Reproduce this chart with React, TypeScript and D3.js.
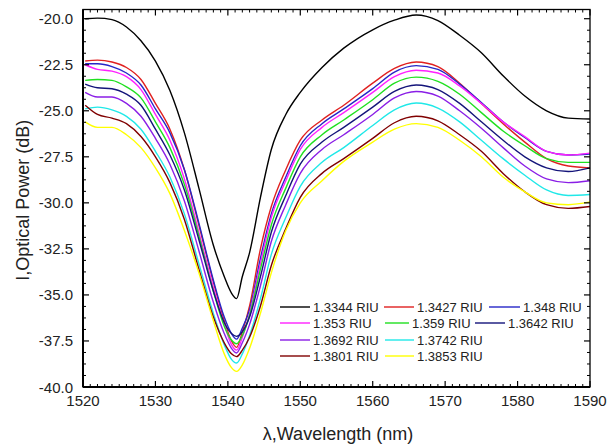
import React from "react";
import * as d3 from "d3";

// wavelength samples (nm) shared by every trace
const wavelength = [
  1520.3, 1522, 1524, 1526, 1528, 1530, 1532, 1534, 1536, 1538, 1539.5, 1540.5,
  1541.2, 1542, 1543, 1544.5, 1546, 1548, 1550, 1553, 1556, 1560, 1563, 1566,
  1569, 1572, 1575, 1578, 1581, 1584, 1587, 1590,
];

const riu13344 = [-20.0, -19.97, -20.05, -20.45, -21.2, -22.3, -23.9, -26.2, -29.2, -32.3, -34.0, -34.9, -35.2, -34.0, -32.7, -29.7, -27.1, -25.2, -24.0, -22.65, -21.6, -20.6, -20.08, -19.8, -20.1, -20.9, -21.85, -23.1, -24.2, -25.0, -25.4, -25.45];
const riu13427 = [-22.3, -22.25, -22.35, -22.65, -23.3, -24.6, -26.0, -28.2, -31.2, -34.3, -36.4, -37.5, -37.85, -37.0, -35.6, -32.5, -30.2, -28.2, -26.6, -25.5, -24.7, -23.5, -22.7, -22.35, -22.6, -23.5, -24.6, -25.7, -26.7, -27.6, -28.0, -28.1];
const riu1348 = [-22.45, -22.45, -22.6, -22.95, -23.6, -24.9, -26.2, -28.2, -31.1, -34.2, -36.2, -37.1, -37.4, -36.8, -35.8, -33.0, -30.6, -28.6, -26.9, -25.7, -24.9, -23.8, -22.9, -22.55, -22.75, -23.55, -24.55, -25.6, -26.45, -27.2, -27.4, -27.35];
const riu1353 = [-22.5, -22.75, -22.85, -23.15, -23.85, -25.2, -26.6, -28.7, -31.6, -34.6, -36.6, -37.7, -38.0, -37.3, -36.0, -33.3, -30.8, -28.8, -27.1, -25.9, -25.1, -24.0, -23.15, -22.8, -22.95, -23.65, -24.6, -25.6, -26.4, -27.2, -27.4, -27.3];
const riu1359 = [-23.35, -23.3, -23.35, -23.7, -24.3, -25.6, -27.0, -29.0, -31.8, -34.8, -36.7, -37.45, -37.65, -37.2, -36.1, -33.6, -31.2, -29.2, -27.5, -26.3, -25.5, -24.4, -23.5, -23.17, -23.4, -24.1, -25.1, -26.1, -26.9, -27.6, -27.8, -27.8];
const riu13642 = [-23.55, -23.75, -23.8, -24.1, -24.7, -26.0, -27.4, -29.3, -32.0, -34.8, -36.5, -37.1, -37.25, -37.0, -36.2, -34.0, -31.6, -29.6, -27.9, -26.7, -25.9, -24.8, -23.95, -23.6, -23.85, -24.6, -25.6, -26.6, -27.5, -28.1, -28.3, -28.1];
const riu13692 = [-24.0, -24.25, -24.25, -24.6, -25.3, -26.5, -27.9, -29.9, -32.6, -35.4, -37.1, -37.9, -38.15, -37.6, -36.6, -34.5, -32.1, -30.1, -28.4, -27.1, -26.3, -25.2, -24.3, -23.95, -24.2, -25.0, -25.95, -27.0, -28.0, -28.7, -28.9, -28.8];
const riu13742 = [-24.9, -24.8, -24.95, -25.3, -26.0, -27.2, -28.6, -30.6, -33.3, -36.0, -37.7, -38.5, -38.7, -38.2, -37.2, -35.2, -32.8, -30.8, -29.1, -27.8, -27.0, -25.8, -24.95, -24.58, -24.85, -25.6, -26.6, -27.6, -28.5, -29.3, -29.6, -29.55];
const riu13801 = [-24.7, -25.2, -25.4, -25.7, -26.4, -27.5, -28.9, -30.9, -33.6, -36.2, -37.6, -38.2, -38.35, -38.0, -37.3, -35.6, -33.4, -31.4, -29.7, -28.4, -27.6, -26.5, -25.65, -25.3, -25.55, -26.3, -27.2, -28.4, -29.4, -30.1, -30.3, -30.2];
const riu13853 = [-25.6, -25.9, -25.9, -26.3, -27.0, -28.1, -29.5, -31.5, -33.8, -36.4, -38.2, -38.95, -39.15, -38.8, -37.9, -36.0, -33.8, -31.5, -30.0, -28.8, -27.75, -26.7, -26.0, -25.7, -25.9, -26.6, -27.5, -28.6, -29.4, -30.0, -30.1, -29.95];

const seriesNames = [
  "1.3344 RIU", "1.3427 RIU", "1.348 RIU", "1.353 RIU", "1.359 RIU",
  "1.3642 RIU", "1.3692 RIU", "1.3742 RIU", "1.3801 RIU", "1.3853 RIU",
];
const seriesValues = [
  riu13344, riu13427, riu1348, riu1353, riu1359,
  riu13642, riu13692, riu13742, riu13801, riu13853,
];
const seriesColors = [
  "#000000", "#e02020", "#2626c8", "#ff20ff", "#20e020",
  "#14147a", "#8a1ee6", "#20e8e8", "#800000", "#ffff00",
];

const xMajorTicks = [1520, 1530, 1540, 1550, 1560, 1570, 1580, 1590];
const yMajorTicks = [-40, -37.5, -35, -32.5, -30, -27.5, -25, -22.5, -20];

// legend rows: [series index, line start x, text x]
const legendRows = [
  [[0, 280, 313], [1, 384, 417], [2, 489, 523]],
  [[3, 280, 313], [4, 385, 412], [5, 475, 508]],
  [[6, 280, 313], [7, 385, 417]],
  [[8, 280, 313], [9, 385, 417]],
];
const legendRowY = [307, 323, 340, 356];

const W = 608;
const H = 448;
const margin = { top: 9.5, right: 18, bottom: 61, left: 83 };
const innerW = W - margin.left - margin.right;
const innerH = H - margin.top - margin.bottom;
const font = "Arial, 'Liberation Sans', sans-serif";

export default function App() {
  const x = d3.scaleLinear().domain([1520, 1590]).range([0, innerW]);
  const y = d3.scaleLinear().domain([-40, -19.5]).range([innerH, 0]);

  const line = d3
    .line<number>()
    .x((_, i) => x(wavelength[i]))
    .y((d) => y(d))
    .curve(d3.curveMonotoneX);

  const xMinor = d3.range(1520, 1591, 1).filter((v) => v % 10 !== 0);
  const yMinor = d3.range(-40, -19.5, 0.625).filter((v) => Math.abs((v + 40) % 2.5) > 1e-6);

  return (
    <svg
      width={W}
      height={H}
      style={{ position: "absolute", left: 0, top: 0, background: "#fff" }}
      fontFamily={font}
    >
      <g transform={`translate(${margin.left},${margin.top})`}>
        {seriesValues.map((vals, i) => (
          <path
            key={seriesNames[i]}
            d={line(vals) ?? ""}
            fill="none"
            stroke={seriesColors[i]}
            strokeWidth={1.4}
          />
        ))}

        {/* frame */}
        <rect x={0} y={0} width={innerW} height={innerH} fill="none" stroke="#000" strokeWidth={1.3} />
        <line x1={0} x2={0} y1={0} y2={innerH} stroke="#000" strokeWidth={2} />
        <line x1={0} x2={innerW} y1={innerH} y2={innerH} stroke="#000" strokeWidth={2} />

        {/* x ticks bottom + top */}
        {xMajorTicks.map((t) => (
          <g key={`xm${t}`}>
            <line x1={x(t)} x2={x(t)} y1={innerH} y2={innerH - 6} stroke="#000" strokeWidth={1.2} />
            <line x1={x(t)} x2={x(t)} y1={0} y2={6} stroke="#000" strokeWidth={1.2} />
            <text x={x(t)} y={innerH + 19} textAnchor="middle" fontSize={15} fill="#222">
              {t}
            </text>
          </g>
        ))}
        {xMinor.map((t) => (
          <g key={`xn${t}`}>
            <line x1={x(t)} x2={x(t)} y1={innerH} y2={innerH - 3} stroke="#000" strokeWidth={1} />
            <line x1={x(t)} x2={x(t)} y1={0} y2={3} stroke="#000" strokeWidth={1} />
          </g>
        ))}

        {/* y ticks left + right */}
        {yMajorTicks.map((t) => (
          <g key={`ym${t}`}>
            <line x1={0} x2={6} y1={y(t)} y2={y(t)} stroke="#000" strokeWidth={1.2} />
            <line x1={innerW} x2={innerW - 6} y1={y(t)} y2={y(t)} stroke="#000" strokeWidth={1.2} />
            <text x={-10} y={y(t) + 5.5} textAnchor="end" fontSize={15} fill="#222">
              {t.toFixed(1)}
            </text>
          </g>
        ))}
        {yMinor.map((t) => (
          <g key={`yn${t}`}>
            <line x1={0} x2={3} y1={y(t)} y2={y(t)} stroke="#000" strokeWidth={1} />
            <line x1={innerW} x2={innerW - 3} y1={y(t)} y2={y(t)} stroke="#000" strokeWidth={1} />
          </g>
        ))}
      </g>

      {/* axis titles */}
      <text x={338} y={440} textAnchor="middle" fontSize={18} fill="#222">
        λ,Wavelength (nm)
      </text>
      <text
        transform={`translate(29,${margin.top + innerH / 2 + 2}) rotate(-90)`}
        textAnchor="middle"
        fontSize={18}
        fill="#222"
      >
        I,Optical Power (dB)
      </text>

      {/* legend */}
      {legendRows.map((row, r) =>
        row.map(([idx, lx, tx]) => (
          <g key={`lg${idx}`}>
            <line
              x1={lx}
              x2={tx - 3}
              y1={legendRowY[r]}
              y2={legendRowY[r]}
              stroke={seriesColors[idx]}
              strokeWidth={1.4}
            />
            <text x={tx} y={legendRowY[r] + 4.5} fontSize={13} fill="#222">
              {seriesNames[idx]}
            </text>
          </g>
        ))
      )}
    </svg>
  );
}
